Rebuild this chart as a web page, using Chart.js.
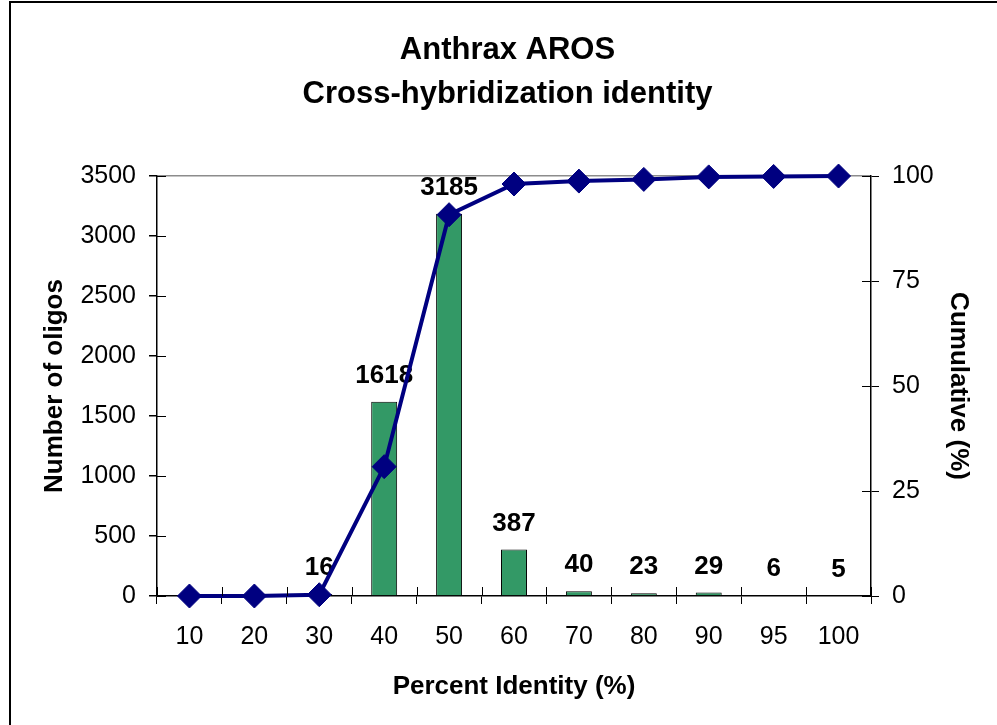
<!DOCTYPE html>
<html>
<head>
<meta charset="utf-8">
<script src="https://cdn.jsdelivr.net/npm/chart.js@4/dist/chart.umd.min.js"></script>
<style>
  html, body { margin: 0; padding: 0; background: #ffffff; }
  #wrap { position: relative; width: 997px; height: 725px; }
</style>
</head>
<body>
<div id="wrap"><canvas id="c" width="997" height="725"></canvas></div>
<script>
// Percent identity bins
const categories = ['10', '20', '30', '40', '50', '60', '70', '80', '90', '95', '100'];
// Number of oligos per bin
const oligoCounts = [0, 0, 16, 1618, 3185, 387, 40, 23, 29, 6, 5];
// Cumulative share of oligos (%)
const cumulativePct = [0, 0, 0.3, 30.8, 90.8, 98.1, 98.8, 99.2, 99.8, 99.9, 100];
// Axis ranges
const countAxis = { min: 0, max: 3500, step: 500 };
const cumulativeAxis = { min: 0, max: 100, step: 25 };

const FONT = "'Liberation Sans', Arial, Helvetica, sans-serif";

// Thin black frame around the figure
const framePlugin = {
  id: 'frame',
  beforeDraw(chart) {
    const ctx = chart.ctx;
    ctx.save();
    ctx.strokeStyle = '#000000';
    ctx.lineWidth = 2;
    ctx.strokeRect(10, 2, 2000, 2000);
    ctx.restore();
  }
};

// Tick marks that cross the axis lines (inner half)
const crossTicksPlugin = {
  id: 'crossTicks',
  afterDraw(chart) {
    const ctx = chart.ctx;
    const { x, y, y2 } = chart.scales;
    const len = 9;
    ctx.save();
    ctx.strokeStyle = '#000000';
    ctx.lineWidth = 1;
    ctx.beginPath();
    for (let i = 0; i <= categories.length; i++) {
      const px = Math.round(x.getPixelForValue(i - 0.5)) + 0.5;
      ctx.moveTo(px, x.top);
      ctx.lineTo(px, x.top - len);
    }
    y.ticks.forEach((t) => {
      const py = Math.round(y.getPixelForValue(t.value)) + 0.5;
      ctx.moveTo(y.right, py);
      ctx.lineTo(y.right + len, py);
    });
    y2.ticks.forEach((t) => {
      const py = Math.round(y2.getPixelForValue(t.value)) + 0.5;
      ctx.moveTo(y2.left, py);
      ctx.lineTo(y2.left - len, py);
    });
    ctx.stroke();
    ctx.restore();
  }
};

// Value labels above the bars
const barLabelsPlugin = {
  id: 'barLabels',
  afterDatasetDraw(chart, args) {
    if (chart.data.datasets[args.index].type !== 'bar') return;
    const ctx = chart.ctx;
    const values = chart.data.datasets[args.index].data;
    ctx.save();
    ctx.font = 'bold 26px ' + FONT;
    ctx.fillStyle = '#000000';
    ctx.textAlign = 'center';
    ctx.textBaseline = 'middle';
    args.meta.data.forEach((bar, i) => {
      if (!values[i]) return;
      ctx.fillText(String(values[i]), bar.x, bar.y - 26);
    });
    ctx.restore();
  }
};

new Chart(document.getElementById('c'), {
  data: {
    labels: categories,
    datasets: [
      {
        type: 'line',
        label: 'Cumulative (%)',
        data: cumulativePct,
        yAxisID: 'y2',
        borderColor: '#000080',
        borderWidth: 4,
        backgroundColor: '#000080',
        pointStyle: 'rectRot',
        pointRadius: 12,
        pointBorderWidth: 1,
        pointBackgroundColor: '#000080',
        pointBorderColor: '#000080',
        tension: 0,
        clip: false,
        order: 0
      },
      {
        type: 'bar',
        label: 'Number of oligos',
        data: oligoCounts,
        yAxisID: 'y',
        backgroundColor: '#339966',
        borderColor: '#000000',
        borderWidth: 1,
        barPercentage: 0.4,
        categoryPercentage: 1.0,
        order: 1
      }
    ]
  },
  options: {
    responsive: false,
    animation: false,
    devicePixelRatio: 1,
    layout: { padding: { left: 18, right: 0, top: 0, bottom: 0 } },
    plugins: {
      legend: { display: false },
      tooltip: { enabled: false },
      title: {
        display: true,
        text: ['Anthrax AROS', 'Cross-hybridization identity'],
        color: '#000000',
        font: { family: FONT, size: 31, weight: 'bold', lineHeight: 1.42 },
        padding: { top: 28, bottom: 60 }
      }
    },
    scales: {
      x: {
        type: 'category',
        offset: true,
        afterFit(scale) { scale.height = 129; },
        border: { display: true, color: '#000000', width: 1.5 },
        grid: {
          offset: true,
          drawOnChartArea: false,
          drawTicks: true,
          tickLength: 8,
          tickColor: '#000000'
        },
        ticks: {
          color: '#000000',
          font: { family: FONT, size: 25 },
          padding: 18,
          maxRotation: 0
        },
        title: {
          display: true,
          text: 'Percent Identity (%)',
          color: '#000000',
          font: { family: FONT, size: 26, weight: 'bold', lineHeight: 1.2 },
          padding: { top: 0, bottom: 23 }
        }
      },
      y: {
        position: 'left',
        min: countAxis.min,
        max: countAxis.max,
        afterFit(scale) { scale.width = 139; },
        border: { display: true, color: '#000000', width: 1.5 },
        grid: {
          drawOnChartArea: true,
          drawTicks: true,
          tickLength: 8,
          tickColor: '#000000',
          color: (ctx) => (ctx.tick && ctx.tick.value === countAxis.max ? '#8c8c8c' : 'rgba(0,0,0,0)'),
          lineWidth: 1.5
        },
        ticks: {
          stepSize: countAxis.step,
          color: '#000000',
          font: { family: FONT, size: 25 },
          padding: 13,
          callback: (v) => String(v)
        },
        title: {
          display: true,
          text: 'Number of oligos',
          color: '#000000',
          font: { family: FONT, size: 26, weight: 'bold', lineHeight: 1.2 },
          padding: { top: 21, bottom: 0 }
        }
      },
      y2: {
        position: 'right',
        min: cumulativeAxis.min,
        max: cumulativeAxis.max,
        afterFit(scale) { scale.width = 126; },
        border: { display: true, color: '#000000', width: 1.5 },
        grid: {
          drawOnChartArea: false,
          drawTicks: true,
          tickLength: 8,
          tickColor: '#000000'
        },
        ticks: {
          stepSize: cumulativeAxis.step,
          color: '#000000',
          font: { family: FONT, size: 25 },
          padding: 13,
          callback: (v) => String(v)
        },
        title: {
          display: true,
          text: 'Cumulative (%)',
          color: '#000000',
          font: { family: FONT, size: 26, weight: 'bold', lineHeight: 1.2 },
          padding: { top: 23, bottom: 0 }
        }
      }
    }
  },
  plugins: [framePlugin, crossTicksPlugin, barLabelsPlugin]
});
</script>
</body>
</html>
